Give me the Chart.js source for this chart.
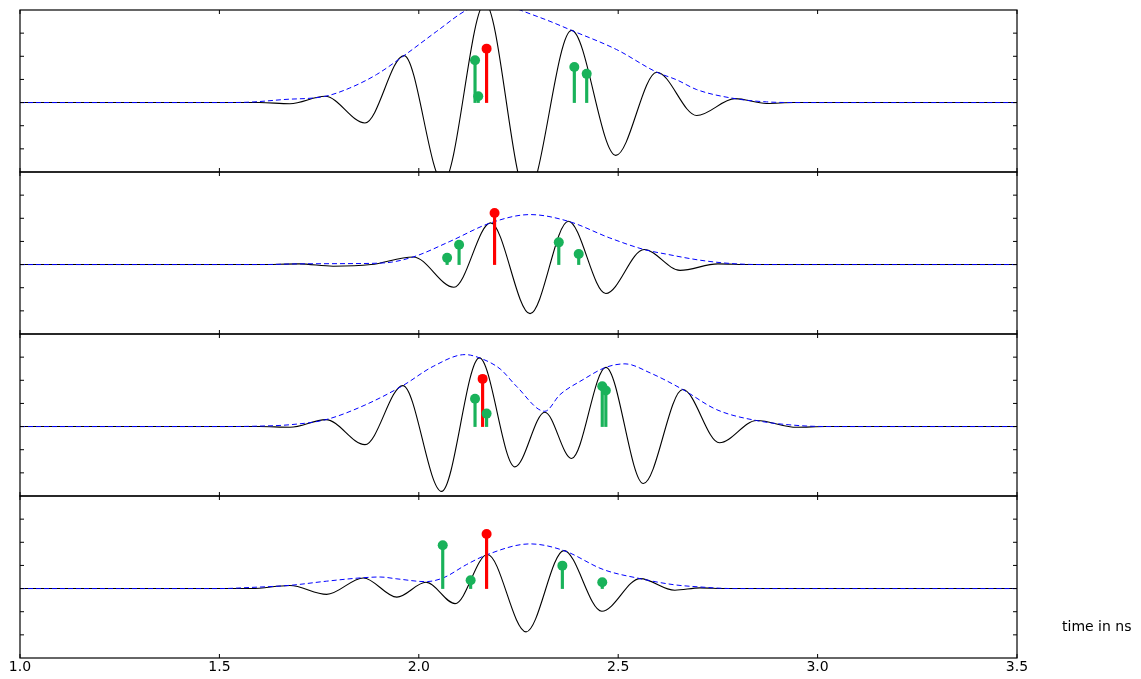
<!DOCTYPE html>
<html>
<head>
<meta charset="utf-8">
<script src="https://cdn.jsdelivr.net/npm/chart.js@4.4.1/dist/chart.umd.min.js"></script>
<style>
  body { margin: 0; background: #fff; width: 1141px; height: 679px; position: relative; overflow: hidden; }
  canvas { position: absolute; left: 0; }
  #xlabel { position: absolute; left: 1062px; top: 618px; font: 14px "DejaVu Sans", sans-serif; line-height: 16px; color: #000; white-space: nowrap; }
</style>
</head>
<body>
<canvas id="panel1" width="1141" height="166" style="top:8px"></canvas>
<canvas id="panel2" width="1141" height="166" style="top:170px"></canvas>
<canvas id="panel3" width="1141" height="166" style="top:332px"></canvas>
<canvas id="panel4" width="1141" height="188" style="top:494px"></canvas>
<div id="xlabel">time in ns</div>
<script>
// ticks
const xTicks = [1.0, 1.5, 2.0, 2.5, 3.0, 3.5];
const yTicks = [-2, -1, 0, 1, 2, 3];

// panel 1 (signal given by its peaks and troughs)
const wave1T = [1.0, 1.60, 1.677, 1.765, 1.865, 1.963, 2.061, 2.166, 2.271, 2.383, 2.494, 2.597, 2.697, 2.793, 2.872, 2.94, 3.5];
const wave1Y = [0, 0, -0.05, 0.27, -0.88, 2.03, -3.45, 4.3, -4.0, 3.12, -2.28, 1.31, -0.56, 0.17, -0.04, 0, 0];
const env1T = [1.0, 1.5, 1.577, 1.66, 1.765, 1.827, 1.894, 1.963, 2.045, 2.12, 2.19, 2.254, 2.329, 2.383, 2.496, 2.597, 2.647, 2.697, 2.793, 2.872, 2.956, 3.5];
const env1Y = [0, 0, 0.02, 0.13, 0.27, 0.63, 1.21, 2.03, 3.08, 4.0, 4.45, 4.0, 3.51, 3.12, 2.29, 1.31, 0.98, 0.56, 0.17, 0.03, 0, 0];
const green1T = [2.141, 2.149, 2.390, 2.421];
const green1Y = [1.83, 0.27, 1.54, 1.24];
const red1T = [2.170];
const red1Y = [2.33];

// panel 2
const wave2T = [1.0, 1.60, 1.70, 1.785, 1.88, 1.986, 2.088, 2.180, 2.279, 2.375, 2.469, 2.565, 2.655, 2.75, 2.83, 3.5];
const wave2Y = [0, 0, 0.03, -0.07, 0, 0.33, -0.98, 1.8, -2.12, 1.87, -1.25, 0.65, -0.25, 0.03, 0, 0];
const env2T = [1.0, 1.6, 1.70, 1.80, 1.911, 1.986, 2.078, 2.180, 2.279, 2.375, 2.479, 2.565, 2.621, 2.705, 2.78, 2.86, 3.5];
const env2Y = [0, 0, 0.03, 0.04, 0.07, 0.33, 1.0, 1.8, 2.16, 1.87, 1.15, 0.65, 0.45, 0.19, 0.05, 0, 0];
const green2T = [2.071, 2.101, 2.351, 2.401];
const green2Y = [0.29, 0.86, 0.96, 0.46];
const red2T = [2.190];
const red2Y = [2.23];

// panel 3
const wave3T = [1.0, 1.60, 1.677, 1.767, 1.865, 1.960, 2.057, 2.152, 2.241, 2.316, 2.383, 2.469, 2.563, 2.662, 2.754, 2.847, 2.948, 3.02, 3.5];
const wave3Y = [0, 0, -0.03, 0.3, -0.78, 1.77, -2.8, 2.97, -1.74, 0.62, -1.38, 2.56, -2.46, 1.6, -0.7, 0.26, -0.03, 0, 0];
const env3T = [1.0, 1.5, 1.6, 1.677, 1.767, 1.865, 1.960, 2.036, 2.116, 2.152, 2.204, 2.245, 2.316, 2.354, 2.412, 2.469, 2.517, 2.580, 2.662, 2.747, 2.847, 2.956, 3.05, 3.5];
const env3Y = [0, 0, 0.02, 0.08, 0.3, 0.93, 1.77, 2.6, 3.11, 2.97, 2.49, 1.74, 0.66, 1.38, 2.03, 2.56, 2.71, 2.32, 1.6, 0.73, 0.26, 0.04, 0, 0];
const green3T = [2.141, 2.170, 2.460, 2.469];
const green3Y = [1.2, 0.56, 1.74, 1.56];
const red3T = [2.160];
const red3Y = [2.06];

// panel 4
const wave4T = [1.0, 1.58, 1.677, 1.769, 1.861, 1.945, 2.018, 2.091, 2.172, 2.269, 2.364, 2.459, 2.555, 2.642, 2.705, 2.77, 3.5];
const wave4Y = [0, 0, 0.13, -0.25, 0.46, -0.37, 0.27, -0.65, 1.47, -1.87, 1.64, -0.98, 0.43, -0.07, 0.03, 0, 0];
const env4T = [1.0, 1.5, 1.58, 1.677, 1.769, 1.861, 1.903, 1.945, 2.018, 2.061, 2.120, 2.172, 2.279, 2.364, 2.463, 2.555, 2.638, 2.705, 2.79, 3.5];
const env4Y = [0, 0, 0.05, 0.14, 0.32, 0.47, 0.5, 0.42, 0.3, 0.46, 1.04, 1.47, 1.93, 1.64, 0.82, 0.43, 0.17, 0.07, 0, 0];
const green4T = [2.060, 2.130, 2.360, 2.460];
const green4Y = [1.87, 0.36, 0.99, 0.27];
const red4T = [2.170];
const red4Y = [2.36];

const GREEN = 'rgb(25, 178, 90)';
const RED = '#ff0000';

const toPoints = (ts, vs) => ts.map((t, i) => ({x: t, y: vs[i]}));

// box + inward tick marks, like the old matplotlib look
const frameTicks = {
  id: 'frameTicks',
  afterDatasetsDraw(chart) {
    const {ctx, chartArea: a, scales} = chart;
    ctx.save();
    ctx.strokeStyle = '#000';
    ctx.lineWidth = 1;
    ctx.beginPath();
    xTicks.forEach(v => {
      const px = scales.x.getPixelForValue(v);
      ctx.moveTo(px, a.top); ctx.lineTo(px, a.top + 4);
      ctx.moveTo(px, a.bottom); ctx.lineTo(px, a.bottom - 4);
    });
    yTicks.forEach(v => {
      const py = scales.y.getPixelForValue(v);
      ctx.moveTo(a.left, py); ctx.lineTo(a.left + 4, py);
      ctx.moveTo(a.right, py); ctx.lineTo(a.right - 4, py);
    });
    ctx.stroke();
    ctx.lineWidth = 1.2;
    ctx.strokeRect(a.left, a.top, a.right - a.left, a.bottom - a.top);
    ctx.restore();
  }
};

const makePanel = (id, waveT, waveY, envT, envY, greenT, greenY, redT, redY, withAxis) => {
  const xScale = {
    type: 'linear', min: 1, max: 3.5, offset: false, display: withAxis,
    grid: {display: false, drawTicks: false},
    border: {display: false},
    afterBuildTicks: s => { s.ticks = xTicks.map(v => ({value: v})); },
    ticks: {
      padding: 1, color: '#000', maxRotation: 0,
      font: {family: 'DejaVu Sans', size: 14},
      callback: v => Number(v).toFixed(1)
    }
  };
  if (withAxis) xScale.afterFit = s => { s.height = 24; };

  new Chart(document.getElementById(id), {
    type: 'line',
    data: {
      datasets: [
        {label: 'red marker', data: toPoints(redT, redY), showLine: false, pointRadius: 5,
         pointBackgroundColor: RED, pointBorderWidth: 0, order: 0},
        {label: 'green marker', data: toPoints(greenT, greenY), showLine: false, pointRadius: 5,
         pointBackgroundColor: GREEN, pointBorderWidth: 0, order: 1},
        {type: 'bar', label: 'red stem', data: toPoints(redT, redY), backgroundColor: RED,
         barThickness: 2.5, grouped: false, order: 2},
        {type: 'bar', label: 'green stem', data: toPoints(greenT, greenY), backgroundColor: GREEN,
         barThickness: 2.5, grouped: false, order: 3},
        {label: 'envelope', data: toPoints(envT, envY), borderColor: '#0000ff', borderWidth: 1,
         borderDash: [5, 3], pointRadius: 0, cubicInterpolationMode: 'monotone', order: 4},
        {label: 'signal', data: toPoints(waveT, waveY), borderColor: '#000', borderWidth: 1.1,
         pointRadius: 0, cubicInterpolationMode: 'monotone', order: 5}
      ]
    },
    options: {
      responsive: false,
      animation: false,
      devicePixelRatio: 1,
      events: [],
      layout: {autoPadding: false, padding: {left: 20, right: 124, top: 2, bottom: withAxis ? 0 : 2}},
      plugins: {legend: {display: false}, tooltip: {enabled: false}},
      scales: {
        x: xScale,
        y: {type: 'linear', min: -3, max: 4, display: false}
      }
    },
    plugins: [frameTicks]
  });
};

makePanel('panel1', wave1T, wave1Y, env1T, env1Y, green1T, green1Y, red1T, red1Y, false);
makePanel('panel2', wave2T, wave2Y, env2T, env2Y, green2T, green2Y, red2T, red2Y, false);
makePanel('panel3', wave3T, wave3Y, env3T, env3Y, green3T, green3Y, red3T, red3Y, false);
makePanel('panel4', wave4T, wave4Y, env4T, env4Y, green4T, green4Y, red4T, red4Y, true);
</script>
</body>
</html>
